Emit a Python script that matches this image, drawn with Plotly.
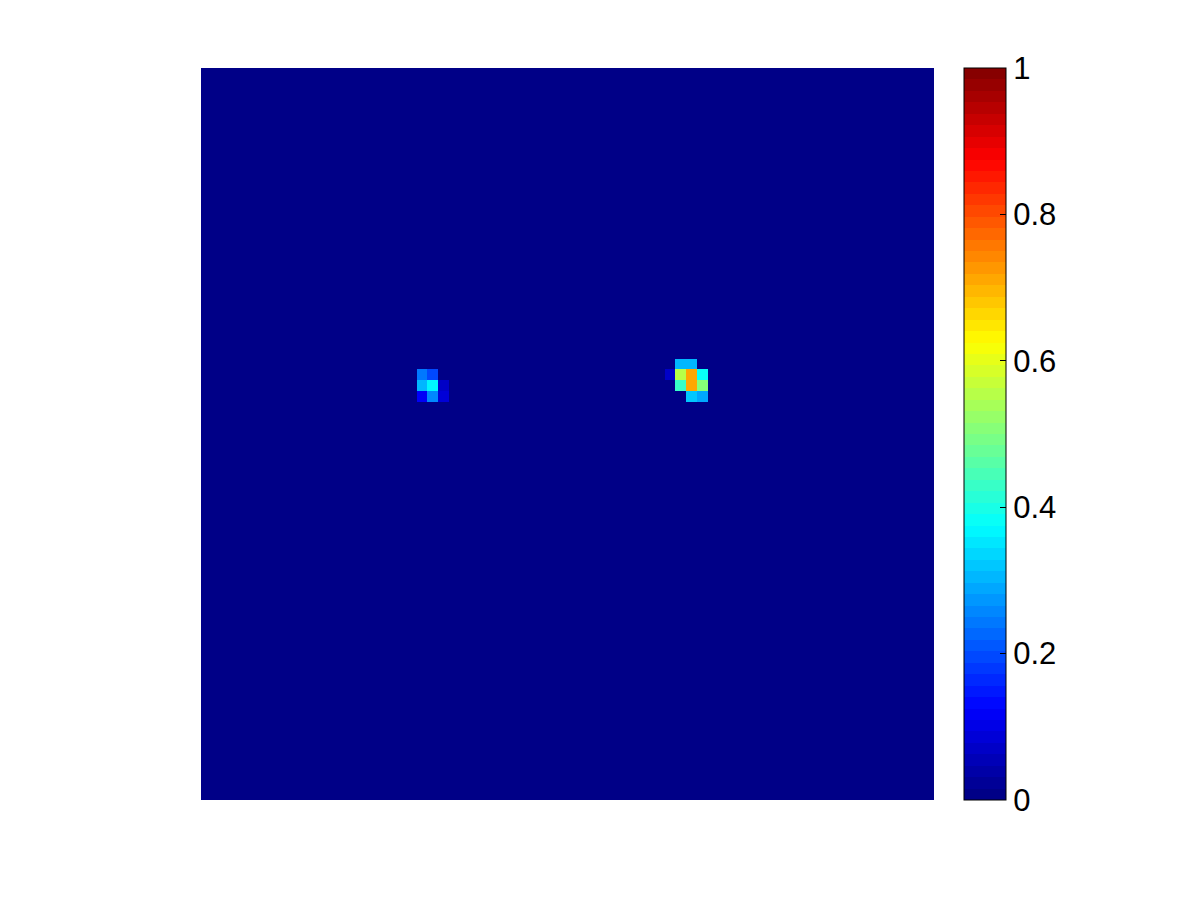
import numpy as np
import plotly.graph_objects as go

# grid size
n_rows = 68
n_cols = 68

# non-zero cells: rows (from top), columns, values
blob_rows = [28, 28, 29, 29, 29, 30, 30, 30,
             27, 27, 28, 28, 28, 28, 29, 29, 29, 30, 30]
blob_cols = [20, 21, 20, 21, 22, 20, 21, 22,
             44, 45, 43, 44, 45, 46, 44, 45, 46, 45, 46]
blob_vals = [0.24, 0.19, 0.31, 0.37, 0.07, 0.12, 0.26, 0.08,
             0.30, 0.30, 0.07, 0.55, 0.71, 0.38, 0.43, 0.71, 0.50, 0.32, 0.29]

tick_vals = [0, 0.2, 0.4, 0.6, 0.8, 1]
tick_text = ["0", "0.2", "0.4", "0.6", "0.8", "1"]

z = np.zeros((n_rows, n_cols))
for r, c, v in zip(blob_rows, blob_cols, blob_vals):
    z[r, c] = v

def jet(x):
    r = np.clip(1.5 - abs(4 * x - 3), 0, 1)
    g = np.clip(1.5 - abs(4 * x - 2), 0, 1)
    b = np.clip(1.5 - abs(4 * x - 1), 0, 1)
    return r, g, b

N = 64
cscale = []
for i in range(N):
    r, g, b = jet((i + 0.5) / N)
    col = "rgb(%d,%d,%d)" % (round(r * 255), round(g * 255), round(b * 255))
    cscale.append([i / N, col])
    cscale.append([(i + 1) / N, col])

# layout geometry (page body has an 8px margin)
L, R, T, B = 193, 274, 60, 108
plot_w = 1200 - L - R
cb_x = (964 - 201) / plot_w
cb_thick = 42

fig = go.Figure(go.Heatmap(
    z=z,
    zmin=0, zmax=1,
    colorscale=cscale,
    showscale=True,
    colorbar=dict(
        x=cb_x, xanchor="left", xref="paper",
        y=0, yanchor="bottom", len=1, lenmode="fraction",
        thickness=cb_thick, thicknessmode="pixels",
        outlinewidth=1, outlinecolor="black",
        tickvals=tick_vals, ticktext=tick_text,
        ticks="inside", ticklen=6, tickcolor="black", tickwidth=1,
        tickfont=dict(family="Liberation Sans, Arial, sans-serif", size=31, color="black"),
        xpad=0, ypad=0,
    ),
    hoverinfo="skip",
))

# tick marks on the left side of the colorbar
for tv in tick_vals[1:-1]:
    fig.add_shape(type="line", xref="paper", yref="paper",
                  x0=cb_x, x1=cb_x + 6 / plot_w, y0=tv, y1=tv,
                  line=dict(color="black", width=1))

fig.update_xaxes(visible=False, range=[-0.5, n_cols - 0.5], showgrid=False, zeroline=False)
fig.update_yaxes(visible=False, range=[n_rows - 0.5, -0.5], showgrid=False, zeroline=False)

fig.update_layout(
    width=1200, height=900,
    margin=dict(l=L, r=R, t=T, b=B),
    paper_bgcolor="white", plot_bgcolor="white",
)

fig.write_html("out.html")
